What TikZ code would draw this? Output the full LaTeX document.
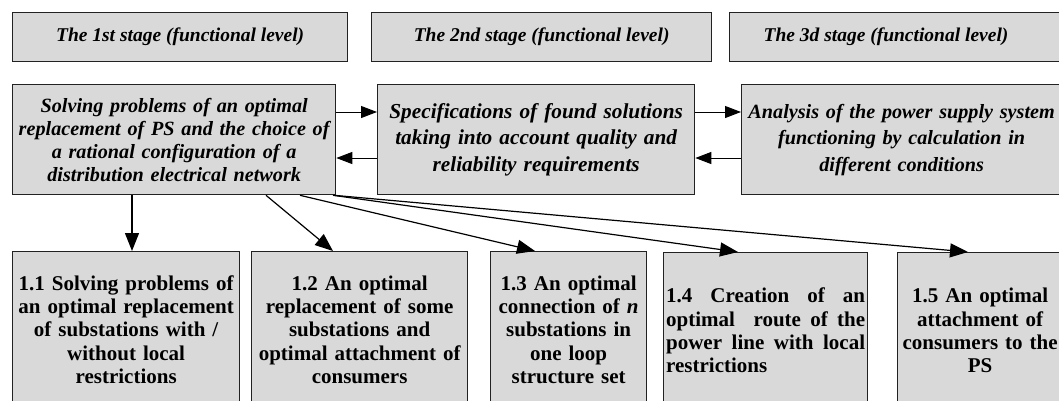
\documentclass[tikz,border=0pt]{standalone}
\usepackage{fontspec}
\setmainfont{Liberation Serif}
\usetikzlibrary{arrows.meta}
\definecolor{boxfill}{HTML}{D9D9D9}
\definecolor{boxline}{HTML}{222222}
\newcommand\wsp{\hspace{0.25em plus 1fil}}
\newcommand\jline[1]{\makebox[199pt][s]{#1}}
\begin{document}
\begin{tikzpicture}[x=1pt,y=-1pt,
  box/.style={draw=boxline, fill=boxfill, line width=1.3pt, inner sep=0pt, anchor=north west, align=center},
  stagetext/.style={font=\fontsize{19.5}{22}\selectfont\bfseries\itshape},
  maintext/.style={font=\fontsize{20.2}{23}\selectfont\bfseries\itshape},
  widetext/.style={font=\fontsize{20.2}{26.5}\selectfont\bfseries\itshape},
  subtext/.style={font=\fontsize{21}{23.3}\selectfont\bfseries},
  harr/.style={line width=1pt, -{Triangle[length=16pt,width=12pt]}},
  varr/.style={line width=1.2pt, -{Triangle[length=18pt,width=14pt]}}]
\useasboundingbox (0,0) rectangle (1059,400);
% stage boxes
\node[box, stagetext, minimum width=335, minimum height=49] (s1) at (12,12) {The 1st stage (functional level)};
\node[box, stagetext, minimum width=340, minimum height=49] (s2) at (371,12) {The 2nd stage (functional level)};
\node[box, minimum width=340, minimum height=49] (s3) at (729,12) {};
\node[stagetext, inner sep=0pt] (s3t) at (886,36.5) {The 3d stage (functional level)};
% main boxes
\node[box, maintext, minimum width=323, minimum height=110, text width=322] (m1) at (12,84)
  {Solving problems of an optimal\\replacement of PS and the choice of\\a rational configuration of a\\distribution electrical network};
\node[box, widetext, font=\fontsize{21.3}{26.5}\selectfont\bfseries\itshape, minimum width=317, minimum height=110, text width=315] (m2) at (377,84)
  {Specifications of found solutions\\taking into account quality and\\reliability requirements};
\node[box, widetext, minimum width=320, minimum height=110, text width=318] (m3) at (741,84)
  {Analysis of the power supply system\\functioning by calculation in\\different conditions};
% bottom boxes
\node[box, subtext, minimum width=227, minimum height=156, text width=225] (b1) at (12,251)
  {1.1 Solving problems of\\an optimal replacement\\of substations with /\\without local\\restrictions};
\node[box, subtext, minimum width=216, minimum height=156, text width=214] (b2) at (251,251)
  {1.2 An optimal\\replacement of some\\substations and\\optimal attachment of\\consumers};
\node[box, subtext, minimum width=156, minimum height=156, text width=154] (b3) at (490,251)
  {1.3 An optimal\\connection of \textit{n}\\substations in\\one loop\\structure set};
\node[box, subtext, minimum width=204, minimum height=156, text width=199, align=left] (b4) at (663,252)
  {\jline{1.4\wsp Creation\wsp of\wsp an}\\\jline{optimal\wsp\wsp route\wsp of\wsp the}\\\jline{power\wsp line\wsp with\wsp local}\\restrictions};
\node[box, subtext, minimum width=165, minimum height=156, text width=163] (b5) at (897,252)
  {1.5 An optimal\\attachment of\\consumers to the\\PS};
% horizontal connectors
\draw[harr] (m1.east |- 0,112) -- (m2.west |- 0,112);
\draw[harr] (m2.west |- 0,158) -- (m1.east |- 0,158);
\draw[harr] (m2.east |- 0,112) -- (m3.west |- 0,112);
\draw[harr] (m3.west |- 0,158) -- (m2.east |- 0,158);
% downward connectors
\draw[varr] (132,0 |- m1.south) -- (132,0 |- b1.north);
\draw[varr] (266,0 |- m1.south) -- (333,0 |- b2.north);
\draw[varr] (300,0 |- m1.south) -- (535,0 |- b3.north);
\draw[varr] (333,0 |- m1.south) -- (738,0 |- b4.north);
\draw[varr] (334,0 |- m1.south) -- (968,0 |- b5.north);
\end{tikzpicture}
\end{document}
